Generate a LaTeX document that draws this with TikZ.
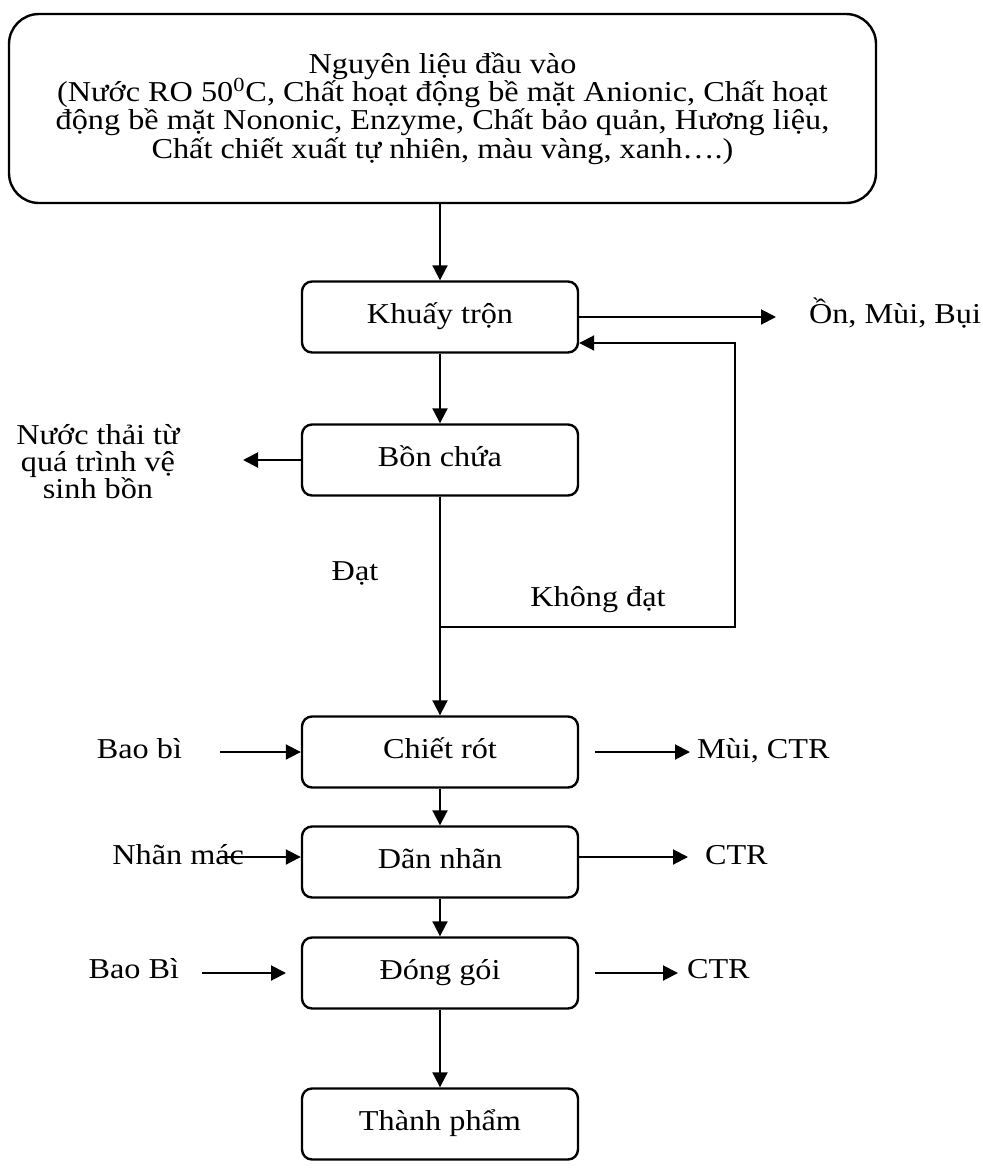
\documentclass[tikz,border=0pt]{standalone}
\usepackage{fontspec}
\setmainfont[FakeStretch=1.12]{Liberation Serif}
\usetikzlibrary{arrows.meta,calc}
\begin{document}
\begin{tikzpicture}[x=0.5pt,y=-0.5pt,
  font={\fontsize{14.4pt}{14.15pt}\selectfont\lineskiplimit=-100pt},
  line width=1pt,
  arr/.style={-{Triangle[length=7.5pt,width=7.5pt]}},
  stepbox/.style={draw,line width=1.2pt,rounded corners=5pt,
    minimum width=138pt,minimum height=35.5pt,inner sep=0pt,
    text height=9.5pt,text depth=3pt},
  lbl/.style={inner sep=0pt,text height=9.5pt,text depth=3pt}]
\useasboundingbox (0,0) rectangle (982,1173);

% input materials
\node[draw,line width=1.2pt,rounded corners=15pt,minimum width=433.5pt,
  minimum height=94.5pt,align=center,inner sep=0pt] (top) at (442.5,108.5)
  {Nguyên liệu đầu vào\\
   (Nước RO 50\textsuperscript{0}C, Chất hoạt động bề mặt Anionic, Chất hoạt\\
   động bề mặt Nononic, Enzyme, Chất bảo quản, Hương liệu,\\
   Chất chiết xuất tự nhiên, màu vàng, xanh….)};

% process steps
\node[stepbox] (k) at (440,317) {Khuấy trộn};
\node[stepbox] (b) at (440,460) {Bồn chứa};
\node[stepbox] (c) at (440,752) {Chiết rót};
\node[stepbox] (d) at (440,862) {Dãn nhãn};
\node[stepbox] (g) at (440,973) {Đóng gói};
\node[stepbox] (t) at (440,1124) {Thành phẩm};

% side labels
\node[lbl,anchor=west] (noise) at (808,317) {Ồn, Mùi, Bụi};
\node[inner sep=0pt,align=center,
  font={\fontsize{14.4pt}{13.5pt}\selectfont\lineskiplimit=-100pt}]
  (ww) at (98,462) {Nước thải từ\\quá trình vệ\\sinh bồn};
\node[lbl] (dat) at (355,574) {Đạt};
\node[lbl] (kdat) at (598,600) {Không đạt};
\node[lbl,anchor=east] (bb1) at (183,752) {Bao bì};
\node[lbl,anchor=west] (mc) at (696,752) {Mùi, CTR};
\node[lbl,anchor=east] (nm) at (245,858) {Nhãn mác};
\node[lbl,anchor=west] (ctr1) at (704,858) {CTR};
\node[lbl,anchor=east] (bb2) at (180,972) {Bao Bì};
\node[lbl,anchor=west] (ctr2) at (686,972) {CTR};

% junction points
\coordinate (wo) at (243,460);
\coordinate (loopA) at (735,343);
\coordinate (loopB) at (735,627);
\coordinate (split) at (440,627);
\coordinate (bin1) at (220,752);
\coordinate (cout0) at (595,752);
\coordinate (cout1) at (690,752);
\coordinate (nin) at (220,857);
\coordinate (dout1) at (688,857);
\coordinate (gin0) at (202,973);
\coordinate (gin1) at (286,973);
\coordinate (gout0) at (595,973);
\coordinate (gout1) at (678,973);

% main flow
\draw[arr] (top.south -| k) -- (k.north);
\draw[arr] (k) -- (b);
\draw (b.south) -- (split);
\draw[arr] (split) -- (c.north);
\draw[arr] (c) -- (d);
\draw[arr] (d) -- (g);
\draw[arr] (g) -- (t);

% recycling loop
\draw[arr] (split) -- (loopB) -- (loopA) -- (k.east |- loopA);

% emissions and inputs
\draw[arr] (k.east |- noise) -- ([xshift=-16pt]noise.west);
\draw[arr] (b.west) -- (wo);
\draw[arr] (bin1) -- (c.west);
\draw[arr] (cout0) -- (cout1);
\draw[arr] (nin) -- (d.west |- nin);
\draw[arr] (d.east |- dout1) -- (dout1);
\draw[arr] (gin0) -- (gin1);
\draw[arr] (gout0) -- (gout1);
\end{tikzpicture}
\end{document}
